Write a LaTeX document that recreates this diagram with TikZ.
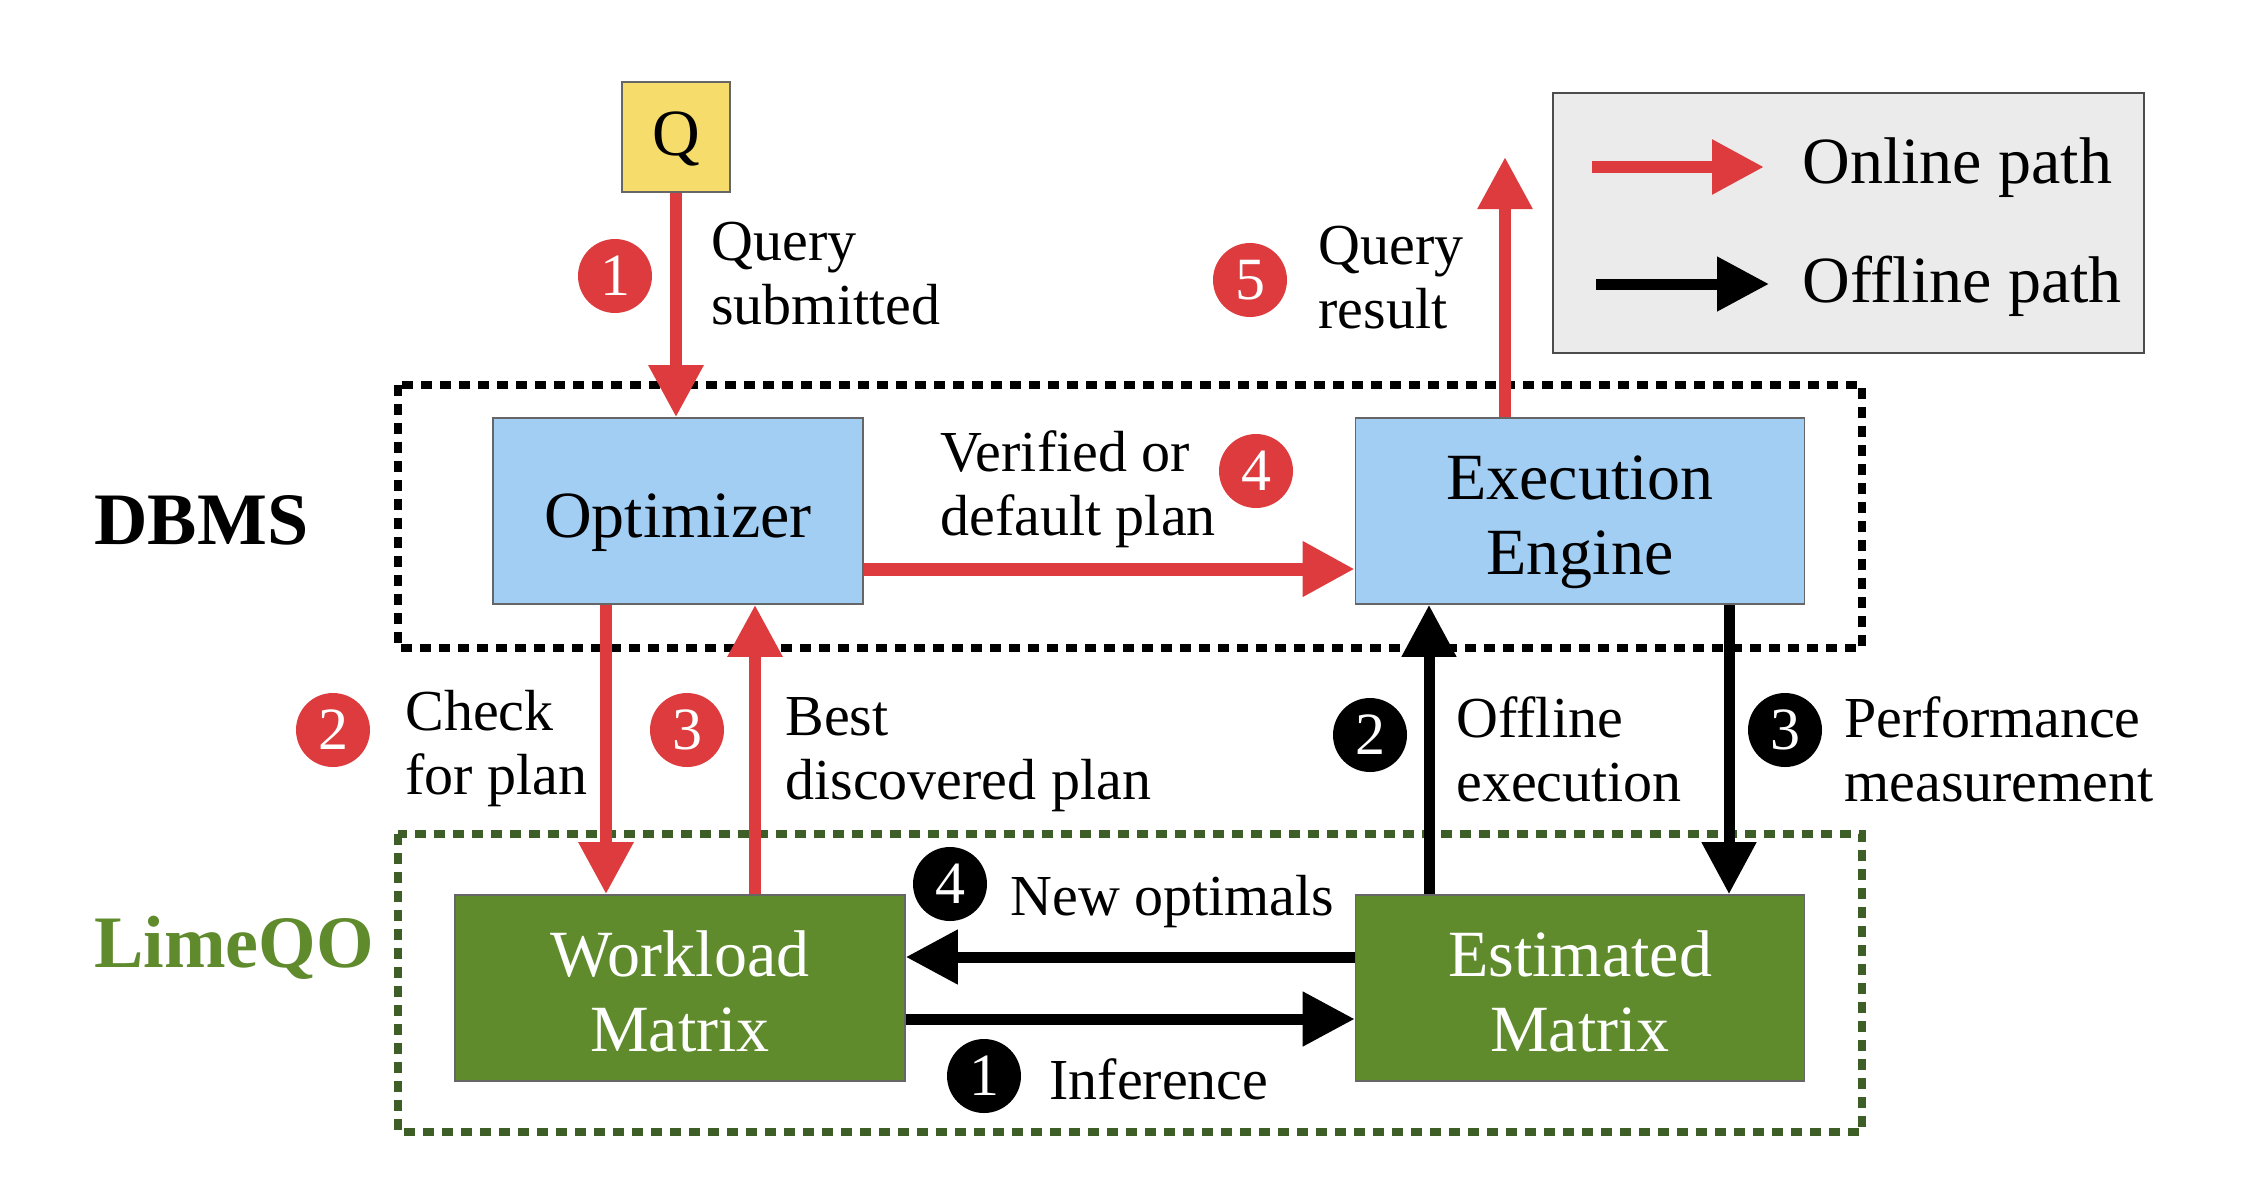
\documentclass[tikz,border=0pt]{standalone}
\usepackage{fontspec}
\setmainfont{Liberation Serif}
\usetikzlibrary{arrows.meta,calc}
\definecolor{myred}{HTML}{DD3B3D}
\definecolor{myblue}{HTML}{A2CEF3}
\definecolor{mygreen}{HTML}{5F8B2D}
\definecolor{darkgreen}{HTML}{3D5E26}
\definecolor{myyellow}{HTML}{F5DC6B}
\definecolor{legendgray}{HTML}{EBEBEB}
\newcommand{\topstrut}{\rule{0pt}{34pt}}
\newcommand{\botstrut}{\rule[-8pt]{0pt}{8pt}}
\begin{document}
\begin{tikzpicture}[x=0.5pt,y=-0.5pt,
  box/.style={draw=black!60, line width=0.8pt, inner sep=0pt, align=center, font=\fontsize{33}{37.5}\selectfont},
  lbl/.style={anchor=west, inner sep=0pt, align=left, font=\fontsize{29}{32}\selectfont},
  num/.style={circle, inner sep=0pt, minimum size=37pt, text=white, font=\fontsize{30}{30}\selectfont},
  rednum/.style={num, fill=myred},
  blknum/.style={num, fill=black},
  redarr/.style={draw=myred, line width=6pt, -{Triangle[width=26pt,length=26pt]}},
  blkarr/.style={draw=black, line width=5.5pt, -{Triangle[width=26pt,length=26pt]}},
  dotbox/.style={line width=4pt, dash pattern=on 5.5pt off 4pt},
  grp/.style={inner sep=0pt, anchor=west, font=\bfseries\fontsize{37}{40}\selectfont},
]
\useasboundingbox (0,0) rectangle (2243,1200);

% group frames
\draw[dotbox, black] (398,385) rectangle (1862,648);
\draw[dotbox, darkgreen] (398,834) rectangle (1862,1132);
\node[grp] (dbms) at (94,520) {DBMS};
\node[grp, text=mygreen] (limeqo) at (94,948) {LimeQO};

% boxes
\node[box, fill=myyellow, minimum width=54pt, minimum height=55pt] (Q) at (676,137) {\rule{0pt}{26pt}Q\botstrut};
\node[box, fill=myblue, minimum width=185pt, minimum height=93pt] (opt) at (678,511) {\topstrut Optimizer\botstrut};
\node[box, fill=myblue, minimum width=224.5pt, minimum height=93pt] (exe) at (1580,511) {\topstrut Execution\\Engine\botstrut};
\node[box, fill=mygreen, text=white, minimum width=225pt, minimum height=93pt] (wm) at (680,988) {\topstrut Workload\\Matrix\botstrut};
\node[box, fill=mygreen, text=white, minimum width=224.5pt, minimum height=93pt] (em) at (1580,988) {\topstrut Estimated\\Matrix\botstrut};

% legend
\node[draw=black!70, line width=0.8pt, fill=legendgray, minimum width=295.5pt, minimum height=130pt, inner sep=0pt] (legend) at (1848.5,223) {};
\coordinate (l1s) at (1592,167);
\coordinate (l1e) at (1764,167);
\coordinate (l2s) at (1596,284);
\coordinate (l2e) at (1769,284);
\draw[redarr] (l1s) -- (l1e);
\draw[blkarr] (l2s) -- (l2e);
\node[anchor=base west, inner sep=0pt, font=\fontsize{33}{37}\selectfont] (lon) at (1802,183) {Online path};
\node[anchor=base west, inner sep=0pt, font=\fontsize{33}{37}\selectfont] (loff) at (1802,302) {Offline path};

% anchor points for connectors
\coordinate (a2) at ($(opt.south)+(-72,0)$);
\coordinate (a3) at ($(wm.north)+(75,0)$);
\coordinate (a4) at ($(opt.east)+(0,58)$);
\coordinate (out) at (1505,157);
\coordinate (b2) at ($(em.north)+(-151,0)$);
\coordinate (b3) at ($(exe.south)+(149,0)$);
\coordinate (b4) at ($(em.west)+(0,-31)$);
\coordinate (b1) at ($(wm.east)+(0,31)$);

% online arrows
\draw[redarr] (Q.south) -- (Q.south |- opt.north);
\draw[redarr] (a2) -- (a2 |- wm.north);
\draw[redarr] (a3) -- (a3 |- opt.south);
\draw[redarr, line width=6.5pt] (a4) -- (a4 -| exe.west);
\draw[redarr] (out |- exe.north) -- (out);

% offline arrows
\draw[blkarr] (b2) -- (b2 |- exe.south);
\draw[blkarr] (b3) -- (b3 |- em.north);
\draw[blkarr] (b4) -- (b4 -| wm.east);
\draw[blkarr] (b1) -- (b1 -| em.west);

% labels
\node[lbl] (t1) at (711,274) {Query\\submitted};
\node[lbl] (t2) at (405,749) {Check\\for plan};
\node[lbl] (t3) at (785,755) {Best\\discovered plan};
\node[lbl] (t4) at (940,489) {Verified or\\default plan};
\node[lbl] (t5) at (1318,278) {Query\\result};
\node[lbl] (o2) at (1456,749) {Offline\\execution};
\node[lbl] (o3) at (1844,749) {Performance\\measurement};
\node[lbl] (o4) at (1010,902) {New optimals};
\node[lbl] (o1) at (1049,1079) {Inference};

% step markers
\node[rednum] (r1) at (615,276) {1};
\node[rednum] (r2) at (333,730) {2};
\node[rednum] (r3) at (687,730) {3};
\node[rednum] (r4) at (1256,471) {4};
\node[rednum] (r5) at (1250,280) {5};
\node[blknum] (n1) at (984,1076) {1};
\node[blknum] (n2) at (1370,735) {2};
\node[blknum] (n3) at (1785,730) {3};
\node[blknum] (n4) at (950,884) {4};
\end{tikzpicture}
\end{document}
